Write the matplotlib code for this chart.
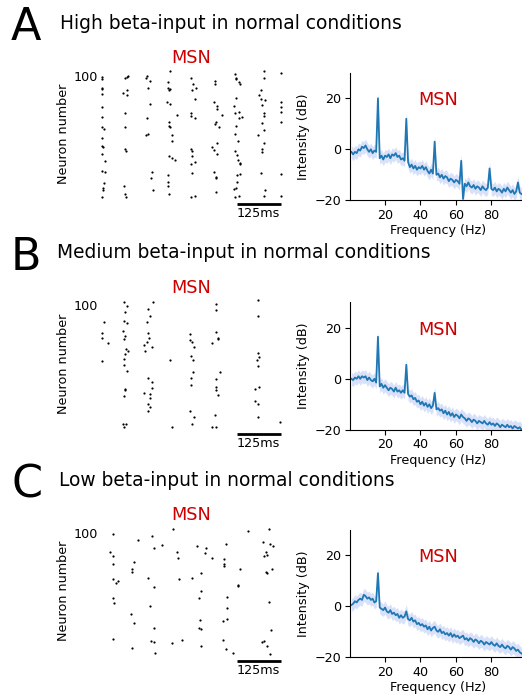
import numpy as np
import matplotlib.pyplot as plt

# ---- raster data: spike times (ms) and neuron index ----
spk_t_A = [0, 0, 0, 0, 0, 0, 0, 0, 5, 0, 0, 2, 0, 8, 0, 7, 6, 3, 2, 0,
           74, 69, 64, 69, 58, 71, 64, 64, 64, 66, 62, 64, 66,
           126, 124, 135, 131, 135, 126, 131, 123, 140, 138, 145,
           192, 188, 192, 188, 189, 183, 192, 211, 189, 189, 193, 197, 199, 189, 199, 206, 188, 186, 188, 189,
           252, 259, 265, 256, 263, 252, 252, 263, 252, 254, 256, 263, 252, 256, 263, 252,
           320, 320, 318, 325, 325, 339, 322, 320, 332, 325, 313, 318, 325, 318, 322, 322, 322,
           377, 379, 379, 388, 391, 379, 375, 388, 377, 396, 388, 379, 377, 385, 377, 382, 385, 391, 391,
           382, 391, 382, 379, 375, 387, 377,
           458, 458, 451, 445, 451, 462, 453, 458, 458, 455, 458, 441, 459, 455, 455, 451, 462, 458,
           508, 508, 508, 508, 508, 508, 508]
spk_n_A = [99, 97, 90, 89, 85, 74, 66, 58, 56, 49, 42, 41, 36, 30, 22, 21, 12, 8, 6, 0,
           100, 99, 98, 88, 86, 84, 69, 58, 40, 38, 9, 3, 0,
           100, 98, 96, 90, 77, 65, 52, 51, 21, 16, 6,
           104, 95, 89, 90, 88, 78, 77, 68, 62, 59, 58, 51, 46, 34, 32, 31, 18, 13, 9, 3,
           98, 93, 90, 88, 81, 69, 67, 65, 40, 38, 34, 29, 27, 20, 1, 0,
           96, 93, 78, 75, 73, 68, 62, 60, 58, 45, 41, 39, 36, 21, 17, 16, 4,
           101, 98, 97, 95, 93, 82, 75, 70, 69, 66, 65, 59, 52, 46, 38, 35, 31, 28, 27,
           18, 19, 13, 8, 7, 1, 0,
           104, 98, 88, 84, 81, 80, 76, 69, 67, 61, 55, 51, 45, 40, 37, 20, 6, 1,
           102, 78, 74, 70, 62, 19, 1]

spk_t_B = [6, 0, 0, 17, 0,
           62, 69, 64, 62, 69, 60, 64, 62, 66, 74, 64, 62, 62, 69, 64, 64, 62, 60, 66, 62,
           145, 129, 135, 126, 129, 133, 126, 119, 142, 121, 129, 140, 142, 119, 135, 135, 129, 135, 131,
           192, 197,
           249, 249, 256, 261, 251, 259, 259, 252, 251, 249, 261, 254,
           322, 322, 322, 330, 328, 313, 334, 322, 323, 322, 328, 320, 323, 311,
           441, 441, 443, 445, 440, 441, 445, 434, 434, 443, 441,
           505]
spk_n_B = [86, 77, 73, 69, 54,
           103, 99, 94, 87, 85, 79, 75, 72, 64, 62, 60, 56, 51, 46, 31, 30, 25, 2, 2, 0,
           103, 97, 91, 86, 77, 73, 70, 67, 66, 62, 40, 37, 32, 28, 27, 24, 19, 16, 13,
           55, 0,
           76, 71, 70, 66, 58, 55, 45, 40, 34, 13, 8, 2,
           101, 96, 78, 73, 72, 69, 45, 39, 33, 30, 26, 10, 0, 0,
           104, 91, 61, 57, 55, 50, 33, 31, 21, 19, 8,
           4]

spk_t_C = [31, 102, 140, 202, 169, 148, 211, 22, 31, 216, 91, 31, 83, 85, 131, 219, 31, 44, 38, 148,
           31, 34, 135, 81, 90, 148, 31, 138, 148, 227, 199, 85, 150,
           474, 413, 351, 456, 476, 486, 268, 295, 292, 464, 467, 460, 313, 346, 346, 346, 391, 483,
           464, 468, 280, 256, 385, 385, 279, 355, 275, 474, 355, 278, 353, 342, 479, 275, 279, 342,
           460, 455, 467, 279, 351, 370, 477]
spk_n_C = [99, 94, 97, 103, 90, 87, 84, 84, 81, 79, 76, 74, 70, 68, 63, 62, 62, 60, 59, 55,
           46, 42, 40, 33, 26, 22, 13, 11, 10, 12, 9, 5, 1,
           103, 101, 91, 92, 91, 89, 89, 87, 83, 84, 82, 81, 79, 78, 74, 73, 70, 70,
           68, 67, 67, 63, 57, 56, 52, 47, 46, 43, 38, 28, 29, 27, 20, 22, 21, 12,
           11, 10, 7, 7, 4, 1, 0]

# ---- spectra (dB), 1 Hz bins from 1 to 97 Hz ----
freqs = np.arange(1, 98)
spec_A = [-1.0, -2.0, -1.0, -1.5, 0.0, -0.5, 1.0, 0.5, 1.5, 0.0,
          -1.0, 0.0, -1.5, -0.5, -1.0, 20.0, -3.5, -2.5, -4.0, -2.5,
          -3.0, -2.0, -3.5, -2.0, -2.5, -1.5, -3.0, -2.5, -4.0, -3.5,
          -4.5, 12.0, -5.0, -7.0, -6.0, -7.5, -6.5, -8.0, -7.0, -7.5,
          -6.5, -8.0, -7.0, -8.5, -9.5, -8.0, -9.5, 3.0, -10.0, -9.5,
          -11.0, -10.0, -11.5, -10.5, -11.0, -12.5, -11.5, -12.0, -13.0, -12.0,
          -12.5, -13.5, -4.5, -19.5, -13.5, -14.5, -13.0, -14.5, -15.0, -14.0,
          -15.5, -14.5, -15.0, -16.0, -14.5, -15.5, -16.0, -15.0, -7.5, -15.5,
          -16.0, -15.0, -16.5, -15.5, -16.0, -17.0, -15.5, -16.5, -15.0, -16.0,
          -17.0, -16.0, -17.5, -16.5, -13.0, -17.0, -17.5]
spec_B = [0.0, -0.5, 0.5, 0.0, 1.0, 0.0, 1.0, 0.5, 1.0, -0.5,
          0.5, -0.5, -1.0, 0.0, -1.5, 16.5, -3.0, -2.0, -3.5, -2.5,
          -3.5, -4.5, -3.5, -4.0, -5.0, -3.5, -5.0, -4.5, -5.5, -4.5,
          -5.5, 5.5, -6.0, -7.0, -6.5, -8.0, -7.5, -9.0, -8.5, -10.0,
          -9.0, -10.5, -9.5, -11.0, -10.0, -11.5, -10.5, -5.5, -12.0, -11.5,
          -12.5, -12.0, -13.5, -12.5, -14.0, -13.0, -14.5, -13.5, -15.0, -14.0,
          -14.5, -15.5, -14.0, -15.0, -15.5, -16.5, -15.5, -16.0, -17.0, -16.0,
          -16.5, -17.5, -16.5, -17.0, -17.5, -16.5, -17.5, -18.0, -17.0, -18.0,
          -17.5, -18.5, -17.5, -18.0, -19.0, -18.0, -18.5, -19.0, -18.0, -19.0,
          -18.5, -19.5, -18.5, -19.0, -19.5, -19.0, -20.0]
spec_C = [0.5, 1.0, 2.0, 1.5, 2.5, 3.0, 2.5, 4.5, 4.0, 3.0,
          3.5, 2.5, 3.0, 1.5, 2.0, 13.0, -0.5, -1.0, -1.5, -0.5,
          -2.0, -2.5, -1.5, -3.0, -2.5, -3.5, -3.0, -4.5, -3.5, -4.5,
          -4.0, -2.0, -5.0, -5.5, -4.5, -6.0, -5.5, -7.0, -6.5, -7.5,
          -7.0, -8.0, -7.5, -9.0, -8.0, -9.5, -8.5, -8.0, -9.5, -10.0,
          -9.0, -10.5, -10.0, -11.0, -10.5, -11.5, -10.5, -12.0, -11.0, -12.0,
          -11.5, -12.5, -12.0, -11.5, -13.0, -12.5, -13.5, -12.5, -13.0, -14.0,
          -13.0, -13.5, -14.5, -13.5, -14.0, -15.0, -14.0, -14.5, -15.0, -14.0,
          -15.0, -15.5, -14.5, -15.5, -16.0, -15.0, -16.0, -16.5, -15.5, -16.0,
          -17.0, -16.0, -16.5, -17.5, -17.0, -18.0, -18.5]
spec_sd = [2.5, 2.5, 2.5]

letters = ['A', 'B', 'C']
titles = ['High beta-input in normal conditions',
          'Medium beta-input in normal conditions',
          'Low beta-input in normal conditions']
rasters = [(spk_t_A, spk_n_A), (spk_t_B, spk_n_B), (spk_t_C, spk_n_C)]
spectra = [spec_A, spec_B, spec_C]

RED = '#cc0000'
W, H = 522, 696
fig = plt.figure(figsize=(W / 100, H / 100), dpi=100)


def px_axes(l, t, r, b):
    # axes placed from pixel edges
    return fig.add_axes([l / W, 1 - b / H, (r - l) / W, (b - t) / H])


row_dy = [0, 229.5, 457]
title_x = [60, 57, 59]

for i in range(3):
    dy = row_dy[i]

    fig.text(11 / W, 1 - (40 + dy) / H, letters[i], fontsize=32, ha='left', va='baseline')
    fig.text(title_x[i] / W, 1 - (29 + dy) / H, titles[i], fontsize=13.4, ha='left', va='baseline')

    # raster
    ax = px_axes(99, 68 + dy, 283, 200 + dy)
    t, n = rasters[i]
    ax.plot(t, n, 'o', color='k', markersize=1.6, markeredgewidth=0)
    ax.set_xlim(-9.4, 513.4)
    ax.set_ylim(-2.2, 106.3)
    for s in ax.spines.values():
        s.set_visible(False)
    ax.set_xticks([])
    ax.set_yticks([100])
    ax.tick_params(axis='y', length=0, pad=1, labelsize=9.2)
    ax.set_ylabel('Neuron number', fontsize=9.2, labelpad=2)
    ax.set_title('MSN', color=RED, fontsize=12.8, pad=3.4)
    ax.plot([382.5, 507.5], [-5.5, -5.5], color='k', lw=2, clip_on=False,
            solid_capstyle='butt')
    ax.text(443, -8, '125ms', ha='center', va='top', fontsize=9.2)

    # spectrum
    ax2 = px_axes(349.6, 72.8 + dy, 526.8, 200.3 + dy)
    y = np.array(spectra[i])
    ax2.fill_between(freqs, y - spec_sd[i], y + spec_sd[i], color='royalblue',
                     alpha=0.2, lw=0)
    ax2.plot(freqs, y, color='#1f77b4', lw=1.3)
    ax2.set_xlim(0, 100)
    ax2.set_ylim(-20, 30)
    ax2.set_xticks([20, 40, 60, 80])
    ax2.set_yticks([-20, 0, 20])
    ax2.spines['top'].set_visible(False)
    ax2.spines['right'].set_visible(False)
    ax2.tick_params(labelsize=9.2, pad=2.5)
    ax2.set_xlabel('Frequency (Hz)', fontsize=9.2, labelpad=2)
    ax2.set_ylabel('Intensity (dB)', fontsize=9.2, labelpad=3)
    ax2.text(50, 17.2, 'MSN', ha='center', va='baseline', color=RED, fontsize=12.8)

fig.savefig('out.png', dpi=100)
